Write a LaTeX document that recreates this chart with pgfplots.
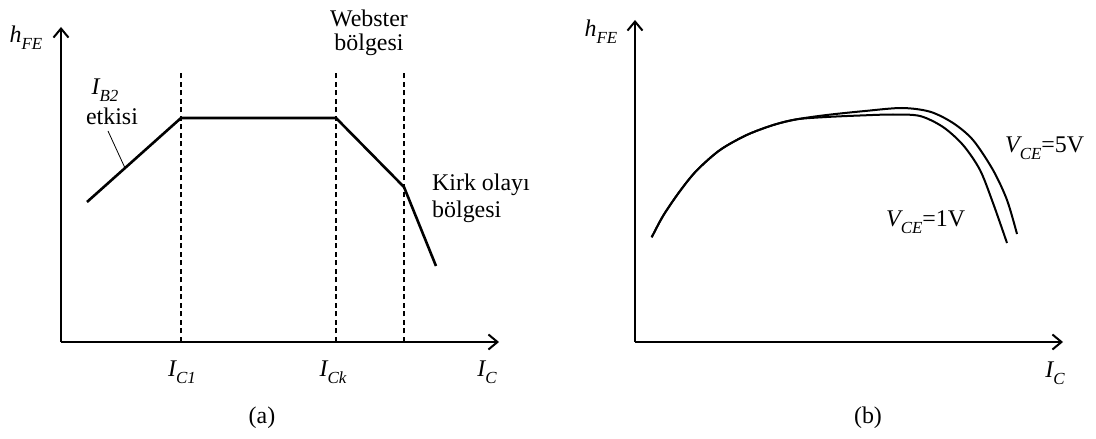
\documentclass[border=0pt]{standalone}
\usepackage{fontspec}
\setmainfont{Liberation Serif}
\usepackage{pgfplots}
\pgfplotsset{compat=1.18}
\usetikzlibrary{arrows.meta}

% italic subscript, lowered as in the printed symbols
\newcommand\sub[1]{\raisebox{-0.28em}{\fontsize{17}{17}\selectfont\itshape #1}}

\pgfplotsset{sketch/.style={
  x=1bp, y=1bp, xmin=0, ymin=0,
  axis lines=left, ticks=none, clip=false,
  axis line style={line width=2bp, -{Straight Barb[length=9bp,width=15bp,line width=2bp]}},
  anchor=south west,
}}

\begin{document}
\fontsize{24}{28}\selectfont
\begin{tikzpicture}
\useasboundingbox (0,0) rectangle (1096bp,439bp);

% ---- (a) piecewise h_FE(I_C) ----
\begin{axis}[sketch, at={(61bp,97bp)}, xmax=438, ymax=315]
  \addplot[line width=2.6bp, line join=round] coordinates {(26,140) (120,224) (275,224) (343,155) (375,76)};
  \addplot[line width=1.2bp, dash pattern=on 5bp off 3.5bp] coordinates {(120,0) (120,269)};
  \addplot[line width=1.2bp, dash pattern=on 5bp off 3.5bp] coordinates {(275,0) (275,269)};
  \addplot[line width=1.2bp, dash pattern=on 5bp off 3.5bp] coordinates {(343,0) (343,269)};
  \addplot[line width=0.8bp] coordinates {(47,211) (64,174)};
  \node at (axis cs:-35,304) {\itshape h\sub{FE}};
  \node at (axis cs:44,252) {\itshape I\sub{B2}};
  \node at (axis cs:51,226) {etkisi};
  \node at (axis cs:308,324) {Webster};
  \node at (axis cs:308,297) {bölgesi};
  \node[anchor=west, inner sep=0pt] at (axis cs:371,157) {Kirk olayı};
  \node[anchor=west, inner sep=0pt] at (axis cs:371,130) {bölgesi};
  \node at (axis cs:121,-30) {\itshape I\sub{C1}};
  \node at (axis cs:272,-30) {\itshape I\sub{Ck}};
  \node at (axis cs:426,-30) {\itshape I\sub{C}};
  \node at (axis cs:201,-76) {(a)};
\end{axis}

% ---- (b) measured h_FE(I_C) for two V_CE ----
\begin{axis}[sketch, at={(635bp,97bp)}, xmax=428, ymax=322]
  \addplot[line width=2bp, smooth] coordinates {
    (16.7,104.7) (28.3,126.5) (45,151) (61.7,171.5) (85,192) (111.7,207) (138.3,217) (161.7,222.7)
    (191.7,225) (225,226.5) (258,227.5) (285,226) (308,215) (328,197) (345,172) (358,139) (372,99)};
  \addplot[line width=2bp, smooth] coordinates {
    (16.7,104.7) (28.3,126.5) (45,151) (61.7,171.5) (85,192) (111.7,207) (138.3,217) (161.7,222.7)
    (191.7,227) (230,231) (267,234) (295,230.3) (318,219) (338,202) (358,172) (372,142) (382,108)};
  \node at (axis cs:-34,310) {\itshape h\sub{FE}};
  \node[anchor=west, inner sep=0pt] at (axis cs:370,194) {{\itshape V\sub{CE}}=5V};
  \node[anchor=west, inner sep=0pt] at (axis cs:251,120) {{\itshape V\sub{CE}}=1V};
  \node at (axis cs:420,-31) {\itshape I\sub{C}};
  \node at (axis cs:233,-76) {(b)};
\end{axis}
\end{tikzpicture}
\end{document}
